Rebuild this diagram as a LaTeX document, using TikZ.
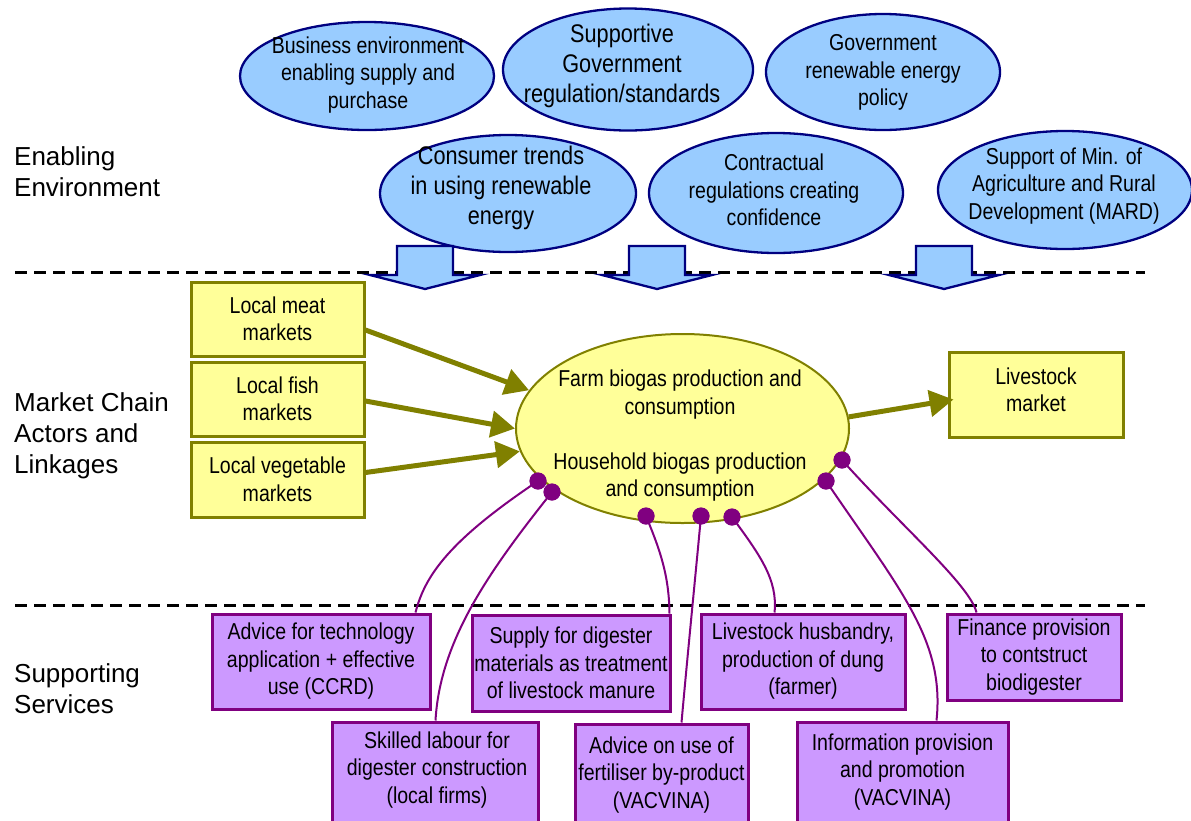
\documentclass[tikz,border=0pt]{standalone}
\usepackage{fontspec}
\setmainfont{Liberation Sans}
\newfontfamily\cond{Liberation Sans}[FakeStretch=0.85]
\usetikzlibrary{arrows.meta,shapes.geometric,calc}
\definecolor{eblue}{HTML}{99CCFF}
\definecolor{navyc}{HTML}{000080}
\definecolor{ylw}{HTML}{FFFF99}
\definecolor{olivec}{HTML}{808000}
\definecolor{lilac}{HTML}{CC99FF}
\definecolor{purp}{HTML}{800080}
\tikzset{
  env/.style={ellipse, draw=navyc, line width=2.3pt, fill=eblue, inner sep=0pt},
  etext/.style={align=center, inner sep=0pt, font=\cond\fontsize{23}{27.5}\selectfont},
  etextbig/.style={align=center, inner sep=0pt, font=\cond\fontsize{25.5}{30}\selectfont},
  bio/.style={ellipse, draw=olivec, line width=2pt, fill=ylw, inner sep=0pt},
  ybox/.style={rectangle, draw=olivec, line width=3pt, fill=ylw, inner sep=0pt, align=center, font=\cond\fontsize{23}{27.5}\selectfont},
  pbox/.style={rectangle, draw=purp, line width=3pt, fill=lilac, inner sep=0pt, align=center, font=\cond\fontsize{23}{27.5}\selectfont},
  ptext/.style={align=center, inner sep=0pt, font=\cond\fontsize{23}{27.5}\selectfont},
  sect/.style={anchor=west, align=left, inner sep=0pt, font=\fontsize{26}{31}\selectfont},
  oarrow/.style={draw=olivec, line width=5pt, -{Triangle[length=24pt,width=26pt]}},
  conn/.style={draw=purp, line width=2pt},
  pdot/.style={circle, fill=purp, inner sep=0pt, minimum size=17pt},
  blk/.style={draw=navyc, line width=2.3pt, fill=eblue, line join=miter},
  sepline/.style={black, line width=3pt, dash pattern=on 12pt off 7pt}
}
\newcommand\blockarr[1]{%
  \draw[blk] (#1-28,246) -- (#1+28,246) -- (#1+28,275) -- (#1+55,275) -- (#1,289)
    -- (#1-55,275) -- (#1-28,275) -- cycle;}
\begin{document}
\begin{tikzpicture}[x=1pt,y=-1pt]
\useasboundingbox (0,0) rectangle (1191,820);
\clip (0,0) rectangle (1191,820);

% section labels
\node[sect] (lab1) at (14,172) {Enabling\\Environment};
\node[sect] (lab2) at (14,436) {Market Chain\\Actors and\\Linkages};
\node[sect] (lab3) at (14,689) {Supporting\\Services};

% enabling environment ellipses
\node[env, minimum width=254pt, minimum height=108pt] (e1) at (367,76) {};
\node[etext] (e1t) at (368,75) {Business environment\\enabling supply and\\purchase};
\node[env, minimum width=250pt, minimum height=122pt] (e2) at (628,69.5) {};
\node[etextbig] (e2t) at (622,66) {Supportive\\Government\\regulation/standards};
\node[env, minimum width=234pt, minimum height=116pt] (e3) at (883,72) {};
\node[etext] (e3t) at (883,72.5) {Government\\renewable energy\\policy};
\node[env, minimum width=256pt, minimum height=117pt] (e4) at (508,193.5) {};
\node[etextbig] (e4t) at (501,188) {Consumer trends\\in using renewable\\energy};
\node[env, minimum width=254pt, minimum height=120pt] (e5) at (776,193) {};
\node[etext] (e5t) at (774,190) {Contractual\\regulations creating\\confidence};
\node[env, minimum width=254pt, minimum height=118pt] (e6) at (1065,190) {};
\node[etext] (e6t) at (1064,186) {Support of Min. of\\Agriculture and Rural\\Development (MARD)};

% separators
\draw[sepline] (15,272) -- (1145,272);
\draw[sepline] (15,605) -- (1145,605);

% block arrows
\blockarr{425}
\blockarr{657}
\blockarr{944}

% market chain
\node[ybox, minimum width=173pt, minimum height=74pt] (b1) at (277.5,319) {Local meat\\markets};
\node[ybox, minimum width=173pt, minimum height=74pt] (b2) at (277.5,399) {Local fish\\markets};
\node[ybox, minimum width=173pt, minimum height=75pt] (b3) at (277.5,479.5) {Local vegetable\\markets};
\node[ybox, minimum width=174pt, minimum height=85pt] (ls) at (1036,394.5) {};
\node[ptext] (lst) at (1036,390) {Livestock\\market};

\node[bio, minimum width=333pt, minimum height=189pt] (bio) at (682.5,428.5) {};
\node[ptext] (biot) at (680,436) {Farm biogas production and\\consumption\\[27.5pt]Household biogas production\\and consumption};

\draw[oarrow] ([yshift=-11pt]b1.east) -- (bio.166);
\draw[oarrow] ([yshift=-2pt]b2.east) -- (bio.180);
\draw[oarrow] ([yshift=7pt]b3.east) -- (bio.188);
\draw[oarrow] (bio.4) -- ([yshift=-5pt,xshift=6pt]ls.west);

% supporting services
\node[pbox, minimum width=218pt, minimum height=95pt] (p1) at (321,661.5) {Advice for technology\\application + effective\\use (CCRD)};
\node[pbox, minimum width=198pt, minimum height=96pt] (p2) at (571,663) {Supply for digester\\materials as treatment\\of livestock manure};
\node[pbox, minimum width=204pt, minimum height=95pt] (p3) at (803,661.5) {Livestock husbandry,\\production of dung\\(farmer)};
\node[pbox, minimum width=174pt, minimum height=86pt] (p4) at (1034,657) {Finance provision\\to contstruct\\biodigester};
\node[pbox, minimum width=206pt, minimum height=108pt] (p5) at (435,776) {};
\node[ptext] (p5t) at (437,770) {Skilled labour for\\digester construction\\(local firms)};
\node[pbox, minimum width=173pt, minimum height=106pt] (p6) at (661.5,777) {};
\node[ptext] (p6t) at (661.5,775) {Advice on use of\\fertiliser by-product\\(VACVINA)};
\node[pbox, minimum width=211pt, minimum height=108pt] (p7) at (902.5,776) {};
\node[ptext] (p7t) at (902.5,772) {Information provision\\and promotion\\(VACVINA)};

% dots
\node[pdot] (d1) at (538,481) {};
\node[pdot] (d2) at (552,492) {};
\node[pdot] (d3) at (646,516) {};
\node[pdot] (d4) at (701,516) {};
\node[pdot] (d5) at (732,517) {};
\node[pdot] (d6) at (826,481) {};
\node[pdot] (d7) at (842,460) {};

% connectors
\draw[conn] (d1.center) .. controls (450,540) and (425,575) .. ([xshift=205pt]p1.north west);
\draw[conn] (d2.center) .. controls (490,570) and (440,640) .. ([xshift=105pt]p5.north west);
\draw[conn] (d3.center) .. controls (660,550) and (669,575) .. ([xshift=-2pt]p2.north east);
\draw[conn] (d4.center) .. controls (696,570) and (688,650) .. ([xshift=108pt]p6.north west);
\draw[conn] (d5.center) .. controls (760,555) and (778,580) .. ([xshift=75pt]p3.north west);
\draw[conn] (d6.center) .. controls (900,590) and (945,640) .. ([xshift=141pt]p7.north west);
\draw[conn] (d7.center) .. controls (900,525) and (970,585) .. ([xshift=31pt]p4.north west);

% redraw dots on top
\foreach \d in {d1,d2,d3,d4,d5,d6,d7} \fill[purp] (\d) circle[radius=8.5pt];
\end{tikzpicture}
\end{document}
